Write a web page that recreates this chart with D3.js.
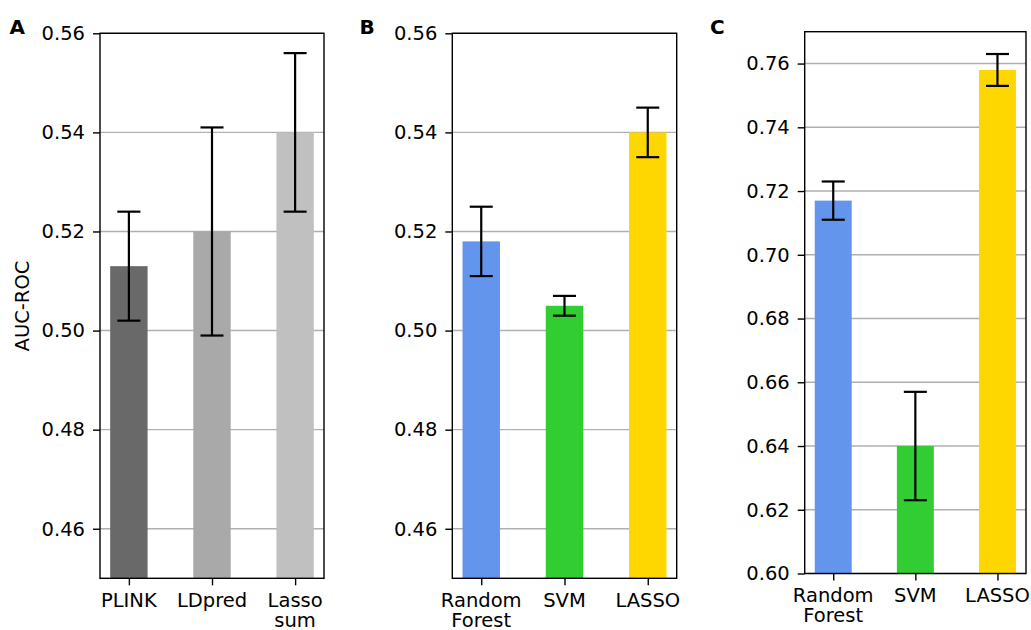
<!DOCTYPE html>
<html>
<head>
<meta charset="utf-8">
<style>
  body { margin: 0; background: #fff; }
  svg text { font-family: "DejaVu Sans", sans-serif; fill: #000; }
  .grid line { stroke: #b0b0b0; stroke-width: 1.4px; }
  .err { stroke: #000; stroke-width: 2.2px; }
</style>
</head>
<body>
<script src="https://d3js.org/d3.v7.min.js"></script>
<script>
// panel A
var catsA = ["PLINK", "LDpred", "Lasso\nsum"];
var meanA = [0.513, 0.520, 0.540];
var lowA  = [0.502, 0.499, 0.524];
var highA = [0.524, 0.541, 0.556];
var colA  = ["#696969", "#a9a9a9", "#c0c0c0"];
var ticksA = [0.46, 0.48, 0.50, 0.52, 0.54, 0.56];

// panel B
var catsB = ["Random\nForest", "SVM", "LASSO"];
var meanB = [0.518, 0.505, 0.540];
var lowB  = [0.511, 0.503, 0.535];
var highB = [0.525, 0.507, 0.545];
var colB  = ["#6495ed", "#32cd32", "#ffd700"];
var ticksB = [0.46, 0.48, 0.50, 0.52, 0.54, 0.56];

// panel C
var catsC = ["Random\nForest", "SVM", "LASSO"];
var meanC = [0.717, 0.640, 0.758];
var lowC  = [0.711, 0.623, 0.753];
var highC = [0.723, 0.657, 0.763];
var colC  = ["#6495ed", "#32cd32", "#ffd700"];
var ticksC = [0.60, 0.62, 0.64, 0.66, 0.68, 0.70, 0.72, 0.74, 0.76];

var width = 1031, height = 630;
var fs = "19.5px";
var svg = d3.select("body").append("svg")
    .attr("width", width)
    .attr("height", height);

function drawPanel(p) {
    var x = d3.scaleLinear()
        .domain([-0.3475, 2.3475])
        .range([p.left, p.right]);
    var y = d3.scaleLinear()
        .domain(p.ydom)
        .range([p.bottom, p.top]);
    var bw = x(0.45) - x(0);
    var g = svg.append("g");

    // grid behind bars
    g.append("g").attr("class", "grid")
        .selectAll("line")
        .data(p.ticks)
        .enter().append("line")
        .attr("x1", p.left).attr("x2", p.right)
        .attr("y1", function(d) { return y(d); })
        .attr("y2", function(d) { return y(d); });

    g.append("g").selectAll("rect")
        .data(p.mean)
        .enter().append("rect")
        .attr("x", function(d, i) { return x(i) - bw / 2; })
        .attr("width", bw)
        .attr("y", function(d) { return y(d); })
        .attr("height", function(d) { return p.bottom - y(d); })
        .attr("fill", function(d, i) { return p.colors[i]; });

    // error bars
    var eb = g.append("g").attr("class", "err");
    p.mean.forEach(function(m, i) {
        var cx = x(i);
        eb.append("line").attr("x1", cx).attr("x2", cx)
            .attr("y1", y(p.low[i])).attr("y2", y(p.high[i]));
        eb.append("line").attr("x1", cx - 11.5).attr("x2", cx + 11.5)
            .attr("y1", y(p.low[i])).attr("y2", y(p.low[i]));
        eb.append("line").attr("x1", cx - 11.5).attr("x2", cx + 11.5)
            .attr("y1", y(p.high[i])).attr("y2", y(p.high[i]));
    });

    // frame
    g.append("rect")
        .attr("x", p.left).attr("y", p.top)
        .attr("width", p.right - p.left)
        .attr("height", p.bottom - p.top)
        .attr("fill", "none")
        .attr("stroke", "#000")
        .attr("stroke-width", 1.4);

    var yAxis = g.append("g")
        .attr("transform", "translate(" + p.left + ",0)")
        .call(d3.axisLeft(y).tickValues(p.ticks).tickFormat(d3.format(".2f"))
            .tickSize(7).tickPadding(8));
    yAxis.select(".domain").remove();
    yAxis.selectAll(".tick line").attr("stroke-width", 1.4);
    yAxis.selectAll("text").style("font-size", fs)
        .style("font-family", "DejaVu Sans, sans-serif");

    var xAxis = g.append("g")
        .attr("transform", "translate(0," + p.bottom + ")")
        .call(d3.axisBottom(x).tickValues([0, 1, 2]).tickFormat("")
            .tickSize(7));
    xAxis.select(".domain").remove();
    xAxis.selectAll(".tick line").attr("stroke-width", 1.4);

    p.cats.forEach(function(c, i) {
        var t = g.append("text")
            .attr("x", x(i))
            .attr("y", p.bottom + p.labelOff)
            .attr("text-anchor", "middle")
            .style("font-size", fs);
        c.split("\n").forEach(function(s, k) {
            t.append("tspan").attr("x", x(i))
                .attr("dy", k === 0 ? 0 : 20.5)
                .text(s);
        });
    });

    g.append("text")
        .attr("x", p.letterX).attr("y", p.letterY)
        .style("font-size", "20px")
        .style("font-family", "DejaVu Sans, sans-serif")
        .style("font-weight", "bold")
        .text(p.letter);
}

drawPanel({ left: 100, right: 324, top: 33.3, bottom: 578.3, ydom: [0.45, 0.56],
    cats: catsA, mean: meanA, low: lowA, high: highA, colors: colA, ticks: ticksA,
    labelOff: 28.4, letter: "A", letterX: 9.5, letterY: 33.5 });
drawPanel({ left: 452.3, right: 676.7, top: 33.3, bottom: 578.3, ydom: [0.45, 0.56],
    cats: catsB, mean: meanB, low: lowB, high: highB, colors: colB, ticks: ticksB,
    labelOff: 28.4, letter: "B", letterX: 359.5, letterY: 33.5 });
drawPanel({ left: 804.7, right: 1026, top: 31.7, bottom: 573.5, ydom: [0.60, 0.77],
    cats: catsC, mean: meanC, low: lowC, high: highC, colors: colC, ticks: ticksC,
    labelOff: 28.2, letter: "C", letterX: 710, letterY: 34 });

svg.append("text")
    .attr("transform", "translate(29,306) rotate(-90)")
    .attr("text-anchor", "middle")
    .style("font-size", fs)
    .text("AUC-ROC");
</script>
</body>
</html>
